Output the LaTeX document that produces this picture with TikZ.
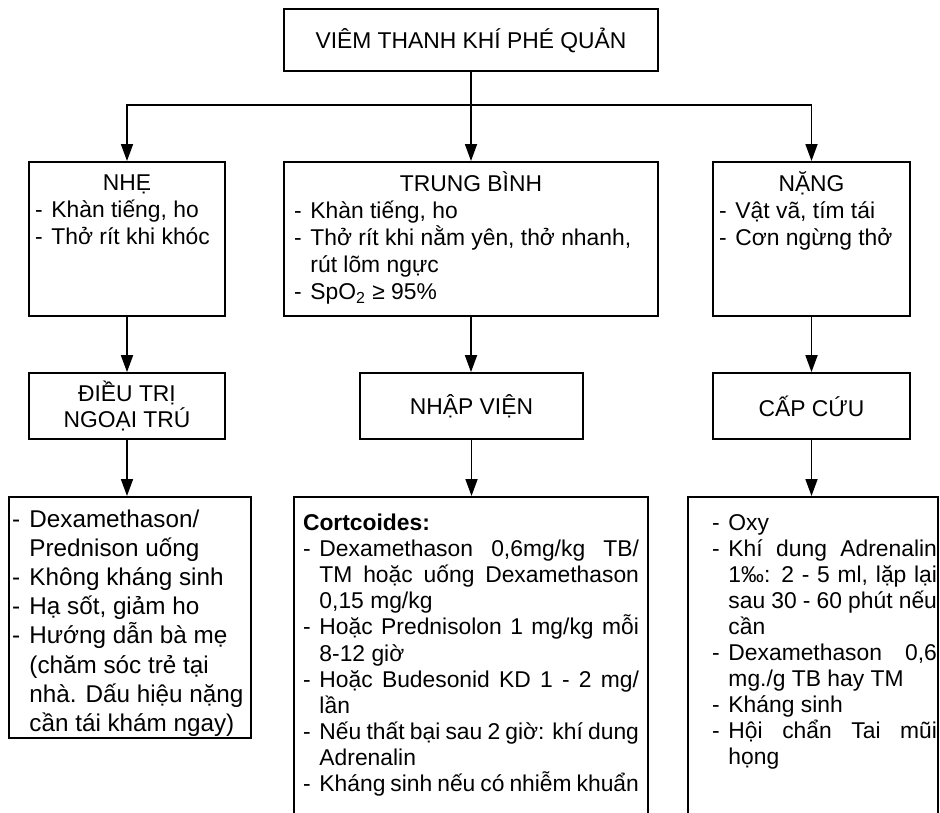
\documentclass[tikz,border=0pt]{standalone}
\usepackage{fontspec}
\setmainfont{Liberation Sans}
\usetikzlibrary{arrows.meta}

% one dash item with hanging lines
\newcommand{\gach}{\par\lineskiplimit=-20pt\relax\hangindent=0.72em\hangafter=1\noindent\makebox[0.72em][l]{\strut-}}

\begin{document}
\begin{tikzpicture}[x=0.02cm, y=-0.02cm,
    every node/.style={font=\fontsize{13pt}{15.3pt}\selectfont},
    box/.style={draw, line width=1pt, inner sep=0pt},
    arr/.style={line width=1pt, -{Triangle[length=0.34cm, width=0.24cm]}}]
    \useasboundingbox (0,0) rectangle (940,812);
    \tolerance=10000 \hbadness=10000

    % Draw nodes
    \node[box, minimum width=7.48cm, minimum height=1.24cm] (title) at (471,40) {VIÊM THANH KHÍ PHÉ QUẢN};

    \node[box, anchor=north, inner xsep=0.12cm, inner ysep=0.2cm] (nhe) at (127,161)
        {\parbox[t][2.68cm][t]{3.68cm}{{\centering\strut NHẸ\par}\gach Khàn tiếng, ho\gach Thở rít khi khóc}};
    \node[box, anchor=north, inner xsep=0.2cm, inner ysep=0.2cm] (tb) at (471,161)
        {\parbox[t][2.68cm][t]{7.08cm}{{\centering\strut TRUNG BÌNH\par}\gach Khàn tiếng, ho\gach Thở rít khi nằm yên, thở nhanh,\newline rút lõm ngực\gach SpO\textsubscript{2} ≥ 95\%}};
    \node[box, anchor=north, inner xsep=0.12cm, inner ysep=0.2cm] (nang) at (811.5,161)
        {\parbox[t][2.68cm][t]{3.70cm}{{\centering\strut NẶNG\par}\gach Vật vã, tím tái\gach Cơn ngừng thở}};

    \node[box, minimum width=3.92cm, minimum height=1.32cm, align=center] (ngoaitru) at (127,406) {ĐIỀU TRỊ\\[-1pt]NGOẠI TRÚ};
    \node[box, minimum width=4.46cm, minimum height=1.32cm] (nhapvien) at (471.5,406) {NHẬP VIỆN};
    \node[box, minimum width=3.94cm, minimum height=1.32cm] (capcuu) at (811.5,406) {CẤP CỨU};

    \node[box, anchor=north, inner xsep=0.06cm, inner ysep=0.2cm] (dtnhe) at (130,496)
        {\fontsize{13.8pt}{16.6pt}\selectfont\parbox[t][4.42cm][t]{4.72cm}{\raggedright
        \gach Dexamethason/\newline Prednison uống\gach Không kháng sinh\gach Hạ sốt, giảm ho\gach Hướng dẫn bà mẹ\newline (chăm sóc trẻ tại\newline nhà. Dấu hiệu nặng\newline cần tái khám ngay)}};
    \node[box, anchor=north, inner xsep=0.18cm, inner ysep=0.3cm] (dttb) at (471,496)
        {\fontsize{13pt}{14.9pt}\selectfont\parbox[t][6.08cm][t]{6.72cm}{\textbf{\strut Cortcoides:}
        \gach Dexamethason 0,6mg/kg TB/\linebreak TM hoặc uống Dexamethason\linebreak 0,15 mg/kg
        \gach Hoặc Prednisolon 1 mg/kg mỗi\linebreak 8-12 giờ
        \gach Hoặc Budesonid KD 1 - 2 mg/\linebreak lần
        \gach Nếu thất bại sau 2 giờ: khí dung\linebreak Adrenalin
        \gach Kháng sinh nếu có nhiễm khuẩn}};
    \node[box, anchor=north, inner xsep=0pt, inner ysep=0.3cm, minimum width=5cm] (dtnang) at (813,496)
        {\fontsize{13pt}{14.8pt}\selectfont\hspace{0.46cm}\parbox[t][6.08cm][t]{4.5cm}{\gach Oxy
        \gach Khí dung Adrenalin\linebreak 1‰: 2 - 5 ml, lặp lại\linebreak sau 30 - 60 phút nếu\linebreak cần
        \gach Dexamethason 0,6\linebreak mg./g TB hay TM
        \gach Kháng sinh
        \gach Hội chẩn Tai mũi\linebreak họng}};

    % Draw connections
    \coordinate (split) at (471,105);
    \draw[arr] (title) -- (tb);
    \draw[arr] (split) -| (nhe);
    \draw[arr] (split) -| (nang);
    \draw[arr] (nhe) -- (nhe |- ngoaitru.north);
    \draw[arr] (tb) -- (tb |- nhapvien.north);
    \draw[arr] (nang) -- (nang |- capcuu.north);
    \draw[arr] (ngoaitru) -- (ngoaitru |- dtnhe.north);
    \draw[arr] (nhapvien) -- (nhapvien |- dttb.north);
    \draw[arr] (capcuu) -- (capcuu |- dtnang.north);
\end{tikzpicture}
\end{document}
